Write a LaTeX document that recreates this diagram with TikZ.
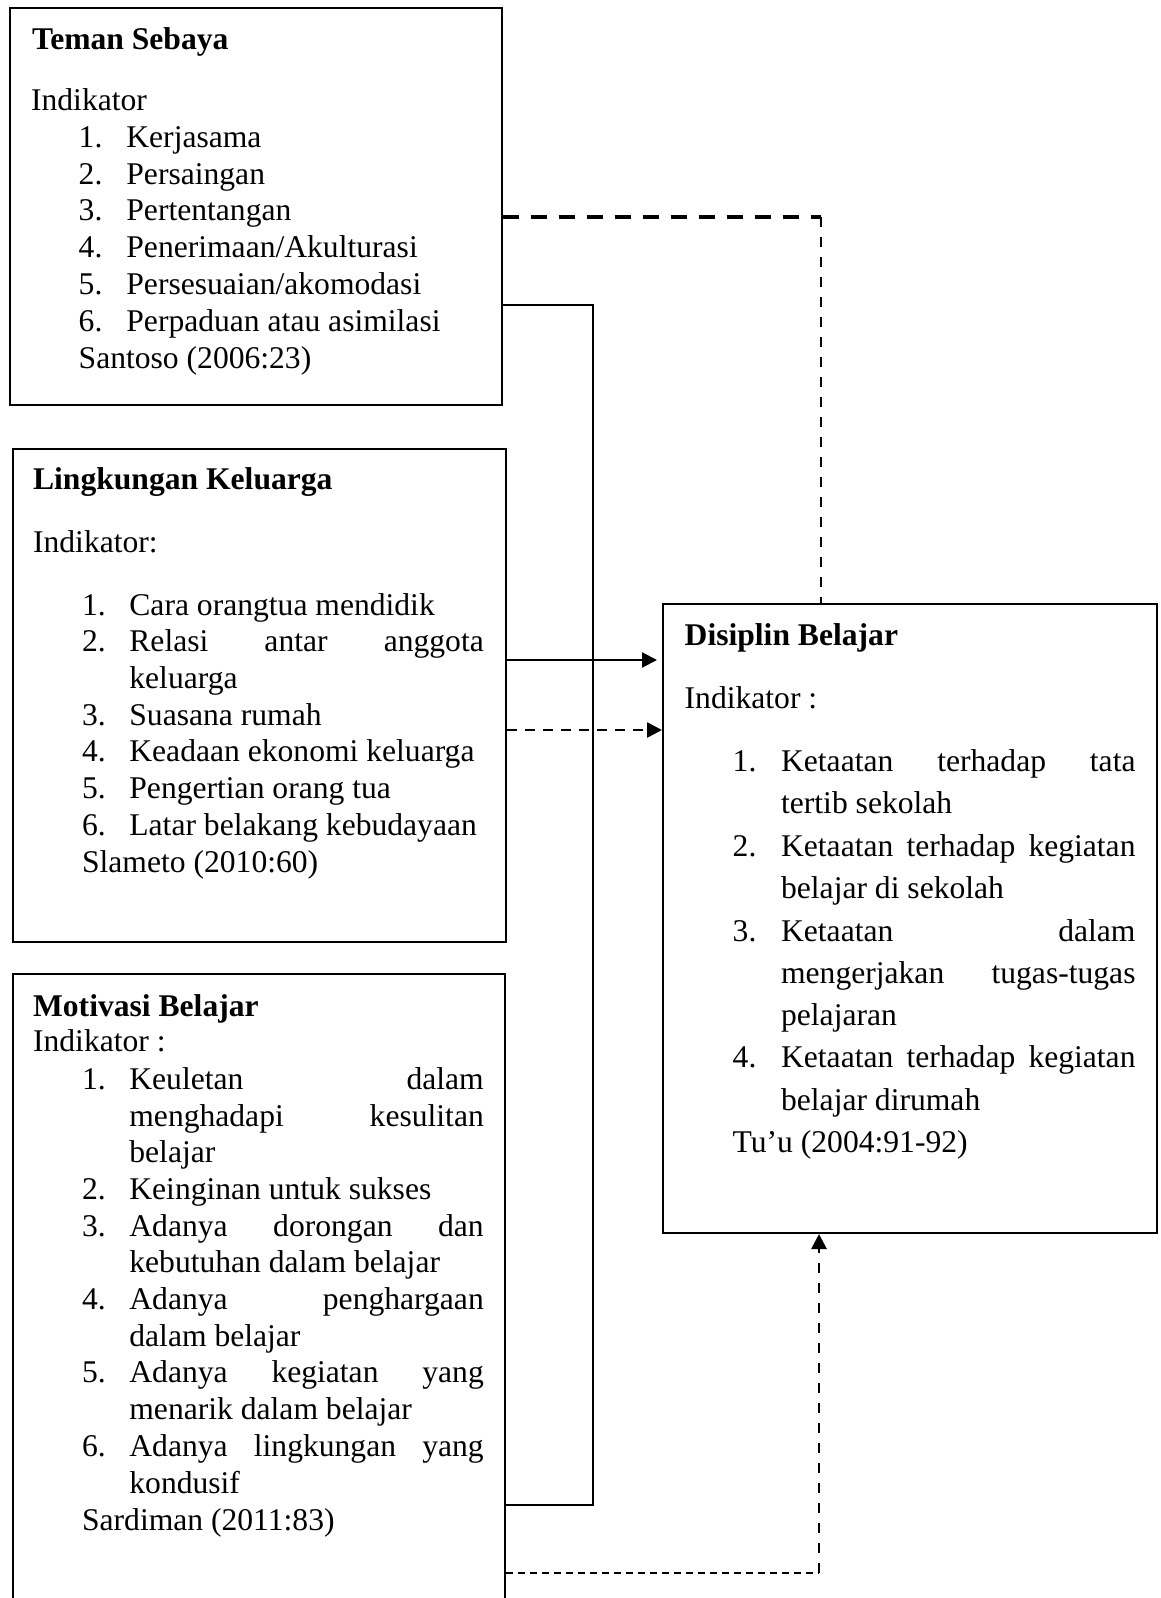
\documentclass[tikz,border=0pt]{standalone}
\usepackage{fontspec}
\setmainfont{Liberation Serif}
\usetikzlibrary{fit,arrows.meta}
\newcommand{\fsz}{\fontsize{15.8pt}{18pt}\selectfont}
\newcommand{\jl}[1]{\makebox[177.2pt][s]{#1}}
\begin{document}
\begin{tikzpicture}[x=0.5pt,y=-0.5pt,
  boxst/.style={draw, line width=1pt, inner sep=0pt, rectangle},
  txt/.style={anchor=base west, inner sep=0pt, font=\fsz},
  ttl/.style={anchor=base west, inner sep=0pt, font=\fsz\bfseries},
  conn/.style={line width=1pt},
  thickdash/.style={line width=2pt, dash pattern=on 8pt off 6pt},
  vdash/.style={line width=1.4pt, dash pattern=on 5pt off 5pt},
  middash/.style={line width=1.3pt, dash pattern=on 5pt off 4pt},
  thindash/.style={line width=1pt, dash pattern=on 3.6pt off 2.4pt},
  tip/.style={-{Triangle[length=7.5pt,width=7.5pt]}}
]
\useasboundingbox (0,0) rectangle (1160,1598);
\clip (0,0) rectangle (1160,1598);
\fill[white] (0,0) rectangle (1160,1598);

% boxes
\node[boxst, fit={(10,8) (501.5,405)}] (b1) {};
\node[boxst, fit={(13,449) (506,942)}] (b2) {};
\node[boxst, fit={(13,974) (505,1620)}] (b3) {};
\node[boxst, fit={(663,604) (1157,1233)}] (b4) {};

% Box 1
\node[ttl] (b1t) at (31.7,49.3) {Teman Sebaya};
\node[txt] (b1i) at (30.7,110.7) {Indikator};
\node[txt] (b1n1) at (78.3,147.3) {1.}; \node[txt] (b1x1) at (126,147.3) {Kerjasama};
\node[txt] (b1n2) at (78.3,184.1) {2.}; \node[txt] (b1x2) at (126,184.1) {Persaingan};
\node[txt] (b1n3) at (78.3,220.9) {3.}; \node[txt] (b1x3) at (126,220.9) {Pertentangan};
\node[txt] (b1n4) at (78.3,257.7) {4.}; \node[txt] (b1x4) at (126,257.7) {Penerimaan/Akulturasi};
\node[txt] (b1n5) at (78.3,294.5) {5.}; \node[txt] (b1x5) at (126,294.5) {Persesuaian/akomodasi};
\node[txt] (b1n6) at (78.3,331.3) {6.}; \node[txt] (b1x6) at (126,331.3) {Perpaduan atau asimilasi};
\node[txt] (b1s) at (78.3,368.4) {Santoso (2006:23)};

% Box 2
\node[ttl] (b2t) at (32.7,489.3) {Lingkungan Keluarga};
\node[txt] (b2i) at (32.7,552.3) {Indikator:};
\node[txt] (b2n1) at (81.7,615) {1.}; \node[txt] (b2x1) at (129,615) {Cara orangtua mendidik};
\node[txt] (b2n2) at (81.7,651.7) {2.}; \node[txt] (b2x2) at (129,651.7) {\jl{Relasi\hfill antar\hfill anggota}};
\node[txt] (b2x2b) at (129,688.3) {keluarga};
\node[txt] (b2n3) at (81.7,725) {3.}; \node[txt] (b2x3) at (129,725) {Suasana rumah};
\node[txt] (b2n4) at (81.7,761.7) {4.}; \node[txt] (b2x4) at (129,761.7) {Keadaan ekonomi keluarga};
\node[txt] (b2n5) at (81.7,798.3) {5.}; \node[txt] (b2x5) at (129,798.3) {Pengertian orang tua};
\node[txt] (b2n6) at (81.7,835) {6.}; \node[txt] (b2x6) at (129,835) {Latar belakang kebudayaan};
\node[txt] (b2s) at (81.7,872) {Slameto (2010:60)};

% Box 3
\node[ttl] (b3t) at (32.7,1016) {Motivasi Belajar};
\node[txt] (b3i) at (32.7,1051.7) {Indikator :};
\node[txt] (b3n1) at (81.7,1089.3) {1.}; \node[txt] (b3x1) at (129,1089.3) {\jl{Keuletan\hfill dalam}};
\node[txt] (b3x1b) at (129,1126) {\jl{menghadapi\hfill kesulitan}};
\node[txt] (b3x1c) at (129,1162.7) {belajar};
\node[txt] (b3n2) at (81.7,1199.4) {2.}; \node[txt] (b3x2) at (129,1199.4) {Keinginan untuk sukses};
\node[txt] (b3n3) at (81.7,1236.1) {3.}; \node[txt] (b3x3) at (129,1236.1) {\jl{Adanya\hfill dorongan\hfill dan}};
\node[txt] (b3x3b) at (129,1272.8) {kebutuhan dalam belajar};
\node[txt] (b3n4) at (81.7,1309.5) {4.}; \node[txt] (b3x4) at (129,1309.5) {\jl{Adanya\hfill penghargaan}};
\node[txt] (b3x4b) at (129,1346.2) {dalam belajar};
\node[txt] (b3n5) at (81.7,1382.9) {5.}; \node[txt] (b3x5) at (129,1382.9) {\jl{Adanya\hfill kegiatan\hfill yang}};
\node[txt] (b3x5b) at (129,1419.6) {menarik dalam belajar};
\node[txt] (b3n6) at (81.7,1456.3) {6.}; \node[txt] (b3x6) at (129,1456.3) {\jl{Adanya\hfill lingkungan\hfill yang}};
\node[txt] (b3x6b) at (129,1493) {kondusif};
\node[txt] (b3s) at (81.7,1530.5) {Sardiman (2011:83)};

% Box 4
\node[ttl] (b4t) at (684.3,645) {Disiplin Belajar};
\node[txt] (b4i) at (684.3,708.3) {Indikator :};
\node[txt] (b4n1) at (732.3,771.7) {1.}; \node[txt] (b4x1) at (780.7,771.7) {\jl{Ketaatan\hfill terhadap\hfill tata}};
\node[txt] (b4x1b) at (780.7,813.5) {tertib sekolah};
\node[txt] (b4n2) at (732.3,856.2) {2.}; \node[txt] (b4x2) at (780.7,856.2) {\jl{Ketaatan\hfill terhadap\hfill kegiatan}};
\node[txt] (b4x2b) at (780.7,898) {belajar di sekolah};
\node[txt] (b4n3) at (732.3,941) {3.}; \node[txt] (b4x3) at (780.7,941) {\jl{Ketaatan\hfill dalam}};
\node[txt] (b4x3b) at (780.7,983.3) {\jl{mengerjakan\hfill tugas-tugas}};
\node[txt] (b4x3c) at (780.7,1025.5) {pelajaran};
\node[txt] (b4n4) at (732.3,1067.7) {4.}; \node[txt] (b4x4) at (780.7,1067.7) {\jl{Ketaatan\hfill terhadap\hfill kegiatan}};
\node[txt] (b4x4b) at (780.7,1110.2) {belajar dirumah};
\node[txt] (b4s) at (732.3,1152.3) {Tu’u (2004:91-92)};

% connectors
\coordinate (j1) at (593,305);
\coordinate (j2) at (593,1505);
\draw[conn] (b1.east |- j1) -- (j1) -- (j2) -- (b3.east |- j2);

\coordinate (t1) at (821,216.7);
\draw[thickdash] (b1.east |- t1) -- (t1);
\draw[vdash] (t1) -- (t1 |- b4.north);

\coordinate (m1) at (0,660);
\draw[conn,tip,shorten >=2.5pt] (b2.east |- m1) -- (b4.west |- m1);
\coordinate (m2) at (0,730);
\draw[middash,tip] (b2.east |- m2) -- (b4.west |- m2);

\coordinate (u1) at (819,1573);
\draw[thindash] (b3.east |- u1) -- (u1);
\draw[vdash,tip] (u1) -- (u1 |- b4.south);
\end{tikzpicture}
\end{document}
